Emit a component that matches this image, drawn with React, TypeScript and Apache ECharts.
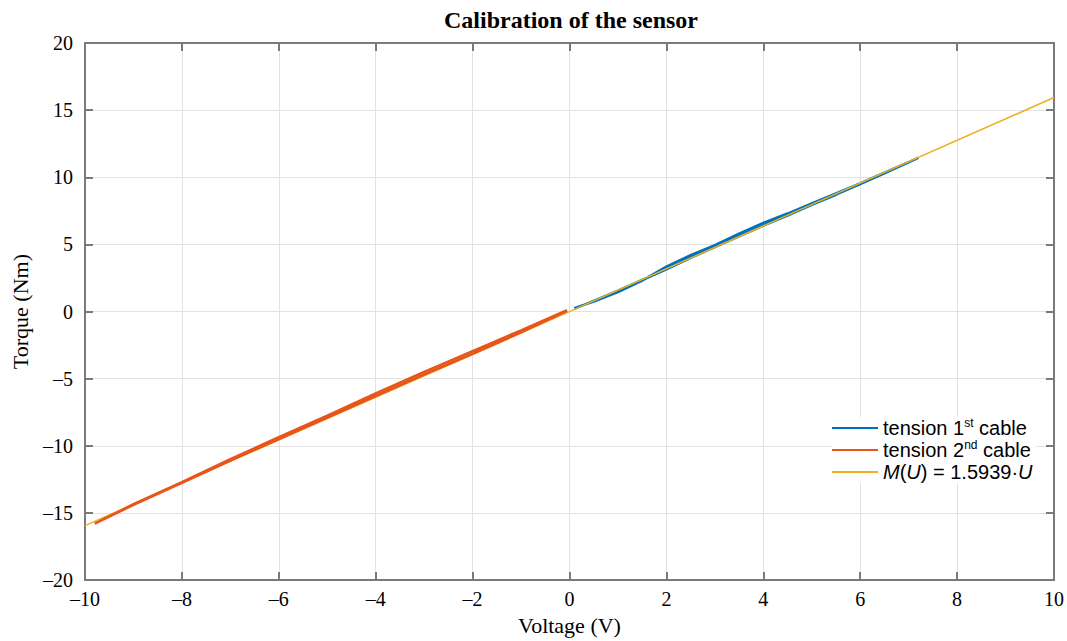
import React, { useEffect, useRef } from "react";
import * as echarts from "echarts";

const seriesNames = ["tension 1st cable", "tension 2nd cable", "M(U) = 1.5939·U"];

const cable1: [number, number][] = [
  [0.1, 0.25], [0.5, 0.75], [1, 1.45], [1.5, 2.3], [2, 3.35], [2.5, 4.2], [3, 4.95],
  [3.5, 5.8], [4, 6.6], [4.5, 7.3], [5, 8.05], [5.5, 8.8], [6, 9.55], [6.5, 10.35], [7.2, 11.45],
  [6.5, 10.3], [6, 9.5], [5.5, 8.7], [5, 7.95], [4.5, 7.15], [4, 6.4], [3.5, 5.6], [3, 4.8],
  [2.5, 4.0], [2, 3.15], [1.5, 2.35], [1, 1.55], [0.5, 0.8], [0.1, 0.2],
];

const cable2: [number, number][] = [
  [-0.05, 0.05], [-1, -1.55], [-2, -3.15], [-3, -4.7], [-4, -6.3], [-5, -7.9], [-6, -9.5],
  [-7, -11.1], [-8, -12.75], [-9, -14.4], [-9.8, -15.8],
  [-9, -14.35], [-8, -12.7], [-7, -11.0], [-6, -9.35], [-5, -7.75], [-4, -6.1], [-3, -4.5],
  [-2, -2.95], [-1, -1.4], [-0.05, 0.1],
];

const fitLine: [number, number][] = [[-10, -15.939], [10, 15.939]];

const xTicks = { min: -10, max: 10, interval: 2 };
const yTicks = { min: -20, max: 20, interval: 5 };

const colors = ["#0072BD", "#E8551A", "#EDB120"];

const dash = (v: number) => String(v).replace("-", "\u2013");

export default function App() {
  const ref = useRef<HTMLDivElement>(null);
  useEffect(() => {
    const chart = echarts.init(ref.current!, null, { renderer: "svg" });
    const serif = "'Liberation Serif', 'Times New Roman', serif";
    const sans = "'Liberation Sans', Arial, sans-serif";
    const axisLine = { show: true, onZero: false, lineStyle: { color: "#7a7a7a", width: 2 } };
    const axisTick = { show: true, inside: true, length: 8, lineStyle: { color: "#7a7a7a", width: 2 } };
    chart.setOption({
      animation: false,
      backgroundColor: "#fff",
      title: {
        text: "Calibration of the sensor",
        left: 571,
        textAlign: "center",
        top: 8,
        padding: 0,
        textStyle: { fontFamily: serif, fontWeight: "bold", fontSize: 24, color: "#000" },
      },
      grid: { left: 85, right: 10, top: 43, bottom: 59, containLabel: false },
      legend: {
        orient: "vertical",
        left: 832,
        top: 417,
        itemWidth: 46,
        itemHeight: 2,
        itemGap: 0,
        icon: "rect",
        data: seriesNames,
        backgroundColor: "#fff",
        padding: [0, 4, 0, 0],
        textStyle: {
          fontFamily: sans,
          fontSize: 20,
          lineHeight: 22,
          color: "#000",
          rich: {
            n: { fontFamily: sans, fontSize: 20, lineHeight: 22, color: "#000" },
            sup: { fontFamily: sans, fontSize: 12, lineHeight: 22, color: "#000", verticalAlign: "top", padding: [0, 0, 10, 0] },
            it: { fontFamily: sans, fontSize: 20, lineHeight: 22, fontStyle: "italic", color: "#000" },
          },
        },
        formatter: (name: string) => {
          if (name === seriesNames[0]) return "{n|tension 1}{sup|st}{n| cable}";
          if (name === seriesNames[1]) return "{n|tension 2}{sup|nd}{n| cable}";
          return "{it|M}{n|(}{it|U}{n|) = 1.5939·}{it|U}";
        },
      },
      xAxis: [
        {
          type: "value",
          ...xTicks,
          name: "Voltage (V)",
          nameLocation: "middle",
          nameGap: 29,
          nameTextStyle: { fontFamily: serif, fontSize: 22, color: "#000" },
          axisLine,
          axisTick,
          axisLabel: { fontFamily: serif, fontSize: 20, color: "#000", margin: 9, formatter: dash },
          splitLine: { show: true, lineStyle: { color: "#e2e2e2", width: 1 } },
        },
        {
          type: "value",
          ...xTicks,
          position: "top",
          axisLine,
          axisTick,
          axisLabel: { show: false },
          splitLine: { show: false },
        },
      ],
      yAxis: [
        {
          type: "value",
          ...yTicks,
          name: "Torque (Nm)",
          nameLocation: "middle",
          nameGap: 54,
          nameTextStyle: { fontFamily: serif, fontSize: 22, color: "#000" },
          axisLine,
          axisTick,
          axisLabel: { fontFamily: serif, fontSize: 20, color: "#000", margin: 12, formatter: dash },
          splitLine: { show: true, lineStyle: { color: "#e2e2e2", width: 1 } },
        },
        {
          type: "value",
          ...yTicks,
          position: "right",
          axisLine,
          axisTick,
          axisLabel: { show: false },
          splitLine: { show: false },
        },
      ],
      series: [
        {
          name: seriesNames[0],
          type: "line",
          data: cable1,
          showSymbol: false,
          lineStyle: { color: colors[0], width: 2.5 },
          itemStyle: { color: colors[0] },
          z: 2,
        },
        {
          name: seriesNames[2],
          type: "line",
          data: fitLine,
          showSymbol: false,
          lineStyle: { color: colors[2], width: 1.5 },
          itemStyle: { color: colors[2] },
          z: 3,
        },
        {
          name: seriesNames[1],
          type: "line",
          data: cable2,
          showSymbol: false,
          lineStyle: { color: colors[1], width: 2.5 },
          itemStyle: { color: colors[1] },
          z: 4,
        },
      ],
    });
    return () => chart.dispose();
  }, []);
  return <div ref={ref} style={{ width: 1067, height: 641, position: "absolute", left: 0, top: 0 }} />;
}
